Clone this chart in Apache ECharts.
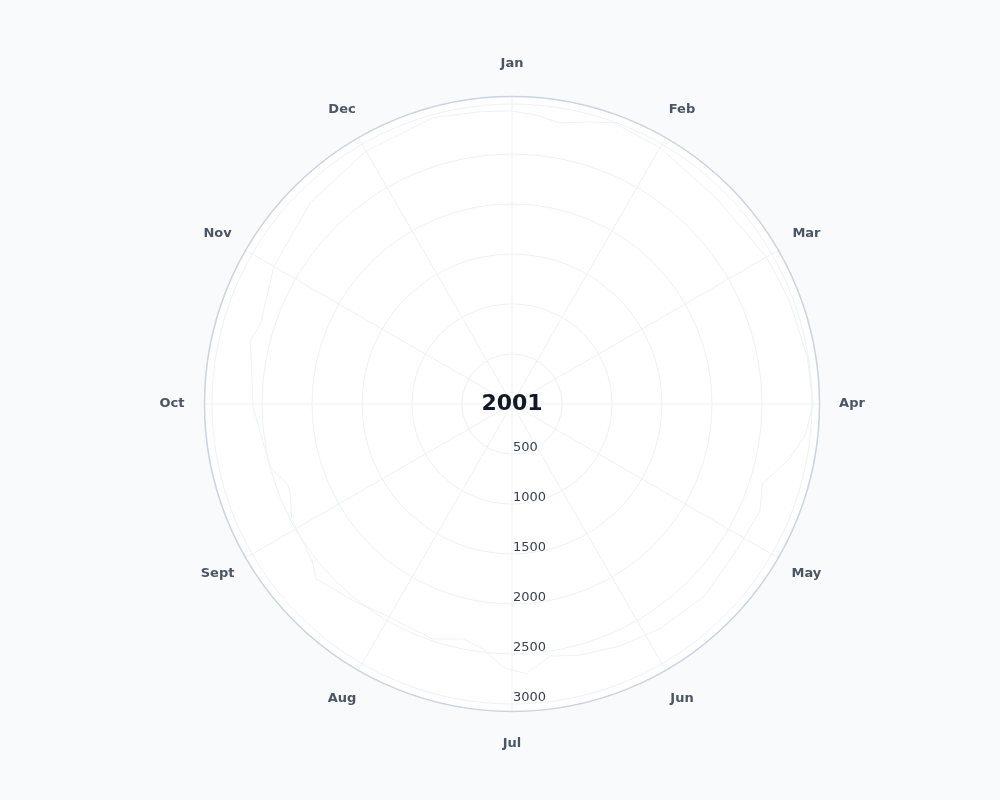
<!DOCTYPE html>
<html>
<head>
<meta charset="utf-8">
<style>
  html, body { margin: 0; padding: 0; background: #f8fafc; }
  #chart { width: 1000px; height: 800px; }
</style>
<script src="https://cdn.jsdelivr.net/npm/echarts@6/dist/echarts.min.js"></script>
</head>
<body>
<div id="chart"></div>
<script>
// Month tick labels (Jan at the top, clockwise)
const monthLabels = ['Jan', 'Feb', 'Mar', 'Apr', 'May', 'Jun', 'Jul', 'Aug', 'Sept', 'Oct', 'Nov', 'Dec'];
// Radius tick values
const radiusTicks = [500, 1000, 1500, 2000, 2500, 3000];
// Year shown in the centre
const yearLabel = '2001';
// Time of year, in months from Jan 1 (0) to Dec 31 (12)
const timeMonths = [0, 0.16, 0.32, 0.5, 0.66, 1.0, 1.5, 2.0, 2.32, 2.7, 3.0, 3.2, 3.37, 3.59, 3.78, 4.1, 4.5, 4.89, 5.2, 5.5, 5.71, 5.9, 6.06, 6.22, 6.39, 6.62, 7.02, 7.3, 7.47, 7.61, 7.71, 7.99, 8.09, 8.27, 8.34, 8.51, 8.98, 9.45, 9.59, 10.0, 10.5, 11.0, 11.49, 11.8, 12];
// Series values
const seriesValues = [2930, 2900, 2850, 2920, 2990, 2960, 2900, 2940, 2960, 2990, 3010, 2950, 2830, 2630, 2700, 2680, 2720, 2690, 2650, 2600, 2550, 2700, 2640, 2470, 2400, 2480, 2460, 2530, 2570, 2630, 2550, 2490, 2480, 2390, 2380, 2500, 2590, 2690, 2640, 2750, 2850, 2920, 2970, 2940, 2930];
const radiusMax = 3075;

// Layout / style constants
const polarCenter = [512, 404];
const polarRadius = 307.5;
const labelMargin = -5;          // anchor radius offset for angle labels
const labelCentreRadius = 340;   // where the month label centres sit
const labelFont = 'bold 13px "DejaVu Sans"';
const labelLineH = 14;

// The radius axis is drawn along the angle axis start (pointing down),
// so the angle axis starts at the bottom (Jul) and runs clockwise.
const offset = 6;
const lineData = timeMonths.map((t, i) => [seriesValues[i], (t + offset) % 12]);

// Build per-label rich styles so each month label is centred on a circle
const measureCtx = document.createElement('canvas').getContext('2d');
measureCtx.font = labelFont;
const rich = {};
for (let v = 0; v < 12; v++) {
  const text = monthLabels[(v + offset) % 12];
  const w = measureCtx.measureText(text).width;
  const h = labelLineH;
  const theta = (180 + 30 * v) * Math.PI / 180;
  const sx = Math.sin(theta), sy = -Math.cos(theta);
  const anchorR = polarRadius + labelMargin;
  const ax = anchorR * sx, ay = anchorR * sy;
  const cxT = labelCentreRadius * sx, cyT = labelCentreRadius * sy;
  const dx = cxT - ax, dy = cyT - ay;
  let pl = 0, pr = 0, pt = 0, pb = 0;
  const ratioX = Math.abs(ax) / polarRadius, ratioY = Math.abs(ay) / polarRadius;
  if (ratioX >= 0.3) {
    if (ax > 0) pl = Math.max(0, dx - w / 2); else pr = Math.max(0, -dx - w / 2);
  }
  // with a fixed line height, vertical token padding shifts the text by half its amount
  if (ratioY >= 0.3) {
    if (ay > 0) pt = 2 * Math.max(0, dy - h / 2); else pb = 2 * Math.max(0, -dy - h / 2);
  }
  rich['l' + v] = {
    fontSize: 13,
    fontWeight: 'bold',
    fontFamily: 'DejaVu Sans',
    color: '#4b5563',
    lineHeight: h,
    padding: [pt, pr, pb, pl]
  };
}

const chart = echarts.init(document.getElementById('chart'));
chart.setOption({
  backgroundColor: '#f8fafc',
  animation: false,
  polar: { center: polarCenter, radius: polarRadius },
  angleAxis: {
    type: 'value',
    min: 0,
    max: 12,
    interval: 1,
    startAngle: 270,
    clockwise: true,
    z: 2,
    axisLine: { show: true, lineStyle: { color: '#cbd5e1', width: 1.5 } },
    axisTick: { show: false },
    axisLabel: {
      margin: labelMargin,
      color: '#4b5563',
      fontWeight: 'bold',
      fontSize: 13,
      fontFamily: 'DejaVu Sans',
      formatter: v => '{l' + v + '|' + monthLabels[(v + offset) % 12] + '}',
      rich: rich
    },
    splitLine: { show: true, lineStyle: { color: '#eef1f5', width: 1 } }
  },
  radiusAxis: {
    type: 'value',
    min: 0,
    max: radiusMax,
    interval: 500,
    z: 2,
    axisLine: { show: false },
    axisTick: { show: false },
    axisLabel: {
      margin: 1,
      verticalAlign: 'bottom',
      color: '#374151',
      fontSize: 13,
      fontFamily: 'DejaVu Sans',
      showMinLabel: false,
      showMaxLabel: false,
      formatter: v => (radiusTicks.indexOf(v) >= 0 ? String(v) : '')
    },
    splitLine: { show: true, lineStyle: { color: '#eef1f5', width: 1 } }
  },
  series: [{
    type: 'line',
    coordinateSystem: 'polar',
    data: lineData,
    showSymbol: false,
    smooth: false,
    z: 3,
    lineStyle: { color: '#eff1f4', width: 1 },
    silent: true
  }],
  graphic: [{
    type: 'circle',
    z: -10,
    silent: true,
    shape: { cx: polarCenter[0], cy: polarCenter[1], r: polarRadius },
    style: { fill: '#ffffff' }
  }, {
    type: 'text',
    z: 10,
    style: {
      text: yearLabel,
      fill: '#111827',
      font: 'bold 22px "DejaVu Sans"',
      textAlign: 'center',
      textVerticalAlign: 'middle'
    },
    x: polarCenter[0], y: polarCenter[1]
  }]
});
</script>
</body>
</html>
